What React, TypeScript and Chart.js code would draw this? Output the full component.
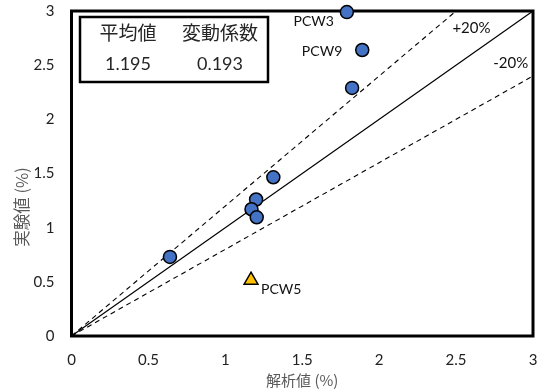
import React, { useEffect, useRef } from "react";
import { Chart, registerables } from "chart.js";

Chart.register(...registerables);

// ---- data ----
const measuredNames = ["PCW3", "PCW9", "P3", "P4", "P5", "P6", "P7", "P8"];
const analysisX = [1.79, 1.89, 1.824, 1.312, 1.2, 1.17, 1.204, 0.64];
const experimentY = [2.99, 2.64, 2.29, 1.465, 1.26, 1.17, 1.096, 0.73];
const outlierX = [1.167];
const outlierY = [0.515];
const outlierNames = ["PCW5"];
const lineX = [0, 3];
const plusRatio = 1.2;
const minusRatio = 0.8;
const tickValues = [0, 0.5, 1, 1.5, 2, 2.5, 3];
const tickLabels = ["0", "0.5", "1", "1.5", "2", "2.5", "3"];
const statHeaders = ["平均値", "変動係数"];
const statValues = ["1.195", "0.193"];
const xTitle = "解析値 (%)";
const yTitle = "実験値 (%)";
const bandLabels = ["+20%", "-20%"];

const LATIN = "Lato, 'Noto Sans CJK JP', sans-serif";
const CJK = "'Noto Sans CJK JP', Lato, sans-serif";

const zeroPad = (s: any) => {
  s.paddingTop = 0;
  s.paddingBottom = 0;
  s.paddingLeft = 0;
  s.paddingRight = 0;
};

export default function App() {
  const ref = useRef<HTMLCanvasElement | null>(null);

  useEffect(() => {
    document.body.style.margin = "0";
    const canvas = ref.current;
    if (!canvas) return;

    const overlay = {
      id: "overlay",
      beforeDatasetsDraw(chart: any) {
        const { ctx, chartArea } = chart;
        ctx.save();
        ctx.strokeStyle = "#000";
        ctx.lineWidth = 3;
        ctx.strokeRect(
          chartArea.left,
          chartArea.top,
          chartArea.right - chartArea.left,
          chartArea.bottom - chartArea.top
        );
        ctx.restore();
      },
      afterDatasetsDraw(chart: any) {
        const { ctx, scales } = chart;
        const xs = scales.x;
        const ys = scales.y;
        ctx.save();
        // stats box
        const bx = 80, by = 17, bw = 188, bh = 65;
        ctx.fillStyle = "#fff";
        ctx.fillRect(bx, by, bw, bh);
        ctx.strokeStyle = "#000";
        ctx.lineWidth = 2.5;
        ctx.strokeRect(bx, by, bw, bh);
        ctx.fillStyle = "#262626";
        ctx.textAlign = "center";
        ctx.textBaseline = "middle";
        const cols = [128, 220];
        ctx.font = "19px " + CJK;
        statHeaders.forEach((t, i) => ctx.fillText(t, cols[i], 33));
        ctx.font = "18px " + LATIN;
        statValues.forEach((t, i) => ctx.fillText(t, cols[i], 64));

        // point labels
        ctx.font = "14px " + LATIN;
        ctx.fillStyle = "#111";
        ctx.textAlign = "right";
        ctx.fillText(measuredNames[0], xs.getPixelForValue(analysisX[0]) - 13, ys.getPixelForValue(experimentY[0]) + 9);
        ctx.fillText(measuredNames[1], xs.getPixelForValue(analysisX[1]) - 20, ys.getPixelForValue(experimentY[1]) + 1);
        ctx.textAlign = "left";
        ctx.fillText(outlierNames[0], xs.getPixelForValue(outlierX[0]) + 10, ys.getPixelForValue(outlierY[0]) + 9);

        // band labels
        ctx.font = "15px " + LATIN;
        ctx.textAlign = "center";
        ctx.fillText(bandLabels[0], xs.getPixelForValue(2.6), ys.getPixelForValue(2.84));
        ctx.fillText(bandLabels[1], xs.getPixelForValue(2.855), ys.getPixelForValue(2.52));

        // axis titles
        ctx.fillStyle = "#595959";
        ctx.font = "15px " + CJK;
        ctx.fillText(xTitle, (xs.left + xs.right) / 2, 380);
        ctx.font = "16.5px " + CJK;
        ctx.translate(22, 207);
        ctx.rotate(-Math.PI / 2);
        ctx.fillText(yTitle, 0, 0);
        ctx.restore();
      },
    };

    const chart = new Chart(canvas, {
      type: "scatter",
      data: {
        datasets: [
          {
            label: "measured",
            data: analysisX.map((x, i) => ({ x, y: experimentY[i] })),
            backgroundColor: "#4472C4",
            borderColor: "#000",
            borderWidth: 1.5,
            pointRadius: 6.5,
            pointStyle: "circle",
            clip: false,
            order: 0,
          },
          {
            label: "outlier",
            data: outlierX.map((x, i) => ({ x, y: outlierY[i] })),
            backgroundColor: "#FFC000",
            borderColor: "#000",
            borderWidth: 1.5,
            pointRadius: 8,
            pointStyle: "triangle",
            order: 0,
          },
          {
            label: "1:1",
            data: lineX.map((x) => ({ x, y: x })),
            showLine: true,
            borderColor: "#000",
            borderWidth: 1.2,
            pointRadius: 0,
            order: 1,
          },
          {
            label: "+20%",
            data: [0, 3 / plusRatio].map((x) => ({ x, y: x * plusRatio })),
            showLine: true,
            borderColor: "#000",
            borderWidth: 1.1,
            borderDash: [5, 4],
            pointRadius: 0,
            order: 1,
          },
          {
            label: "-20%",
            data: lineX.map((x) => ({ x, y: x * minusRatio })),
            showLine: true,
            borderColor: "#000",
            borderWidth: 1.1,
            borderDash: [5, 4],
            pointRadius: 0,
            order: 1,
          },
        ],
      },
      options: {
        animation: false,
        responsive: true,
        maintainAspectRatio: false,
        layout: { padding: { left: 0, right: 22, top: 11, bottom: 0 } },
        plugins: { legend: { display: false }, tooltip: { enabled: false } },
        scales: {
          x: {
            type: "linear",
            min: 0,
            max: 3,
            afterFit: (s: any) => {
              s.height = 56;
              zeroPad(s);
            },
            afterBuildTicks: (s: any) => {
              s.ticks = tickValues.map((v) => ({ value: v }));
            },
            grid: { display: false, drawTicks: false },
            border: { display: false },
            ticks: {
              padding: 15,
              color: "#222",
              font: { size: 15, family: LATIN },
              callback: (v: any) => tickLabels[tickValues.indexOf(Number(v))] ?? "",
            },
          },
          y: {
            type: "linear",
            min: 0,
            max: 3,
            afterFit: (s: any) => {
              s.width = 71.5;
              zeroPad(s);
            },
            afterBuildTicks: (s: any) => {
              s.ticks = tickValues.map((v) => ({ value: v }));
            },
            grid: { display: false, drawTicks: false },
            border: { display: false },
            ticks: {
              padding: 17,
              color: "#222",
              font: { size: 15, family: LATIN },
              callback: (v: any) => tickLabels[tickValues.indexOf(Number(v))] ?? "",
            },
          },
        },
      },
      plugins: [overlay],
    } as any);

    return () => chart.destroy();
  }, []);

  return (
    <div style={{ position: "absolute", left: 0, top: 0, width: 555, height: 392 }}>
      <canvas ref={ref} />
    </div>
  );
}
